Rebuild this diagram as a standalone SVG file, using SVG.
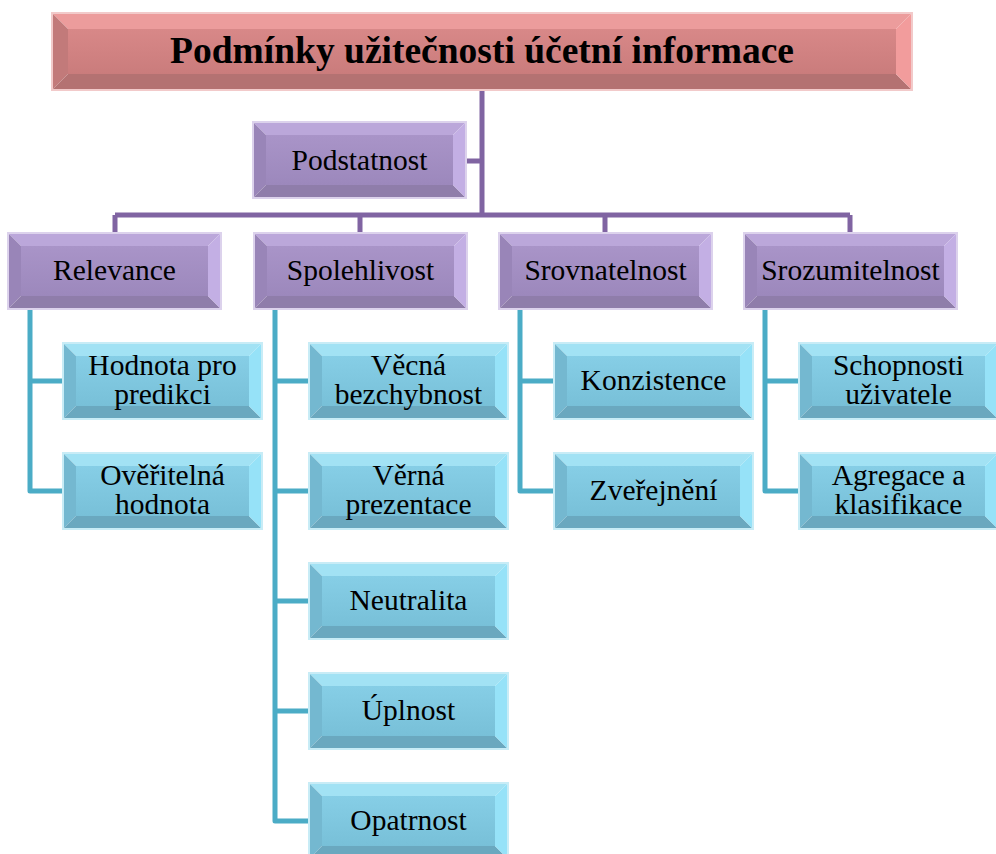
<svg xmlns="http://www.w3.org/2000/svg" xmlns:xlink="http://www.w3.org/1999/xlink" width="996" height="854" viewBox="0 0 996 854">
  <style>
    .lbl { font-family: "Liberation Serif", "Times New Roman", serif; font-size: 29.5px; fill: #000; text-anchor: middle; }
    .ttl { font-family: "Liberation Serif", "Times New Roman", serif; font-size: 37.5px; font-weight: bold; fill: #000; text-anchor: middle; }
    .pl { fill: none; stroke: #8064A2; stroke-width: 5; stroke-linejoin: round; }
    .bl { fill: none; stroke: #4BACC6; stroke-width: 5; stroke-linejoin: round; }
  </style>
  <defs>
    <linearGradient id="gPink" x1="0" y1="0" x2="0" y2="1">
      <stop offset="0" stop-color="#D88888"/>
      <stop offset="1" stop-color="#CA7C7C"/>
    </linearGradient>
    <linearGradient id="gPurple" x1="0" y1="0" x2="0" y2="1">
      <stop offset="0" stop-color="#A994C8"/>
      <stop offset="1" stop-color="#9C88BC"/>
    </linearGradient>
    <linearGradient id="gBlue" x1="0" y1="0" x2="0" y2="1">
      <stop offset="0" stop-color="#86CEE6"/>
      <stop offset="1" stop-color="#78C0D8"/>
    </linearGradient>
    <!-- bevelled title box 860x77 -->
    <g id="pinkBox">
      <rect x="16" y="16" width="828" height="45" fill="url(#gPink)"/>
      <polygon points="0,0 860,0 844,16 16,16" fill="#EC9C9C"/>
      <polygon points="0,0 16,16 16,61 0,77" fill="#C27A7A"/>
      <polygon points="0,77 16,61 844,61 860,77" fill="#B47272"/>
      <polygon points="860,0 860,77 844,61 844,16" fill="#F29C9C"/>
      <rect x="0" y="0" width="860" height="77" fill="none" stroke="#F2CACA" stroke-width="2"/>
    </g>
    <!-- bevelled category box 213x76 -->
    <g id="purpleBox">
      <rect x="13" y="13" width="187" height="50" fill="url(#gPurple)"/>
      <polygon points="0,0 213,0 200,13 13,13" fill="#BBA7DA"/>
      <polygon points="0,0 13,13 13,63 0,76" fill="#9985B8"/>
      <polygon points="0,76 13,63 200,63 213,76" fill="#8F7DAA"/>
      <polygon points="213,0 213,76 200,63 200,13" fill="#C3AFE4"/>
      <rect x="0" y="0" width="213" height="76" fill="none" stroke="#DCD2EC" stroke-width="2"/>
    </g>
    <!-- bevelled item box 199x76 -->
    <g id="blueBox">
      <rect x="13" y="13" width="173" height="50" fill="url(#gBlue)"/>
      <polygon points="0,0 199,0 186,13 13,13" fill="#A2E2F4"/>
      <polygon points="0,0 13,13 13,63 0,76" fill="#74B8D0"/>
      <polygon points="0,76 13,63 186,63 199,76" fill="#6AA8BF"/>
      <polygon points="199,0 199,76 186,63 186,13" fill="#96E2F8"/>
      <rect x="0" y="0" width="199" height="76" fill="none" stroke="#C8ECF6" stroke-width="2"/>
    </g>
  </defs>

  <rect width="996" height="854" fill="#FFFFFF"/>

  <!-- connectors -->
  <g id="connectors">
    <path class="pl" d="M482,90 V215 M465,161 H482 M115,215 H850 M115,215 V233 M360,215 V233 M605,215 V233 M850,215 V233"/>
    <path class="bl" d="M30,309 V491 H63 M30,381 H63"/>
    <path class="bl" d="M275,309 V821 H309 M275,381 H309 M275,491 H309 M275,601 H309 M275,711 H309"/>
    <path class="bl" d="M520,309 V491 H554 M520,381 H554"/>
    <path class="bl" d="M765,309 V491 H799 M765,381 H799"/>
  </g>

  <!-- root -->
  <g id="title">
    <use xlink:href="#pinkBox" x="52" y="13"/>
    <text class="ttl" x="482" y="63">Podmínky užitečnosti účetní informace</text>
  </g>

  <g id="podstatnost">
    <use xlink:href="#purpleBox" x="253" y="122"/>
    <text class="lbl" x="359.5" y="170">Podstatnost</text>
  </g>

  <!-- categories -->
  <g id="relevance">
    <use xlink:href="#purpleBox" x="8" y="233"/>
    <text class="lbl" x="114.5" y="280">Relevance</text>
  </g>
  <g id="spolehlivost">
    <use xlink:href="#purpleBox" x="254" y="233"/>
    <text class="lbl" x="360.5" y="280">Spolehlivost</text>
  </g>
  <g id="srovnatelnost">
    <use xlink:href="#purpleBox" x="499" y="233"/>
    <text class="lbl" x="605.5" y="280">Srovnatelnost</text>
  </g>
  <g id="srozumitelnost">
    <use xlink:href="#purpleBox" x="744" y="233"/>
    <text class="lbl" x="850.5" y="280">Srozumitelnost</text>
  </g>

  <!-- Relevance items -->
  <g id="hodnota-predikce">
    <use xlink:href="#blueBox" x="63" y="343"/>
    <text class="lbl" x="162.5" y="375">Hodnota pro</text>
    <text class="lbl" x="162.5" y="404">predikci</text>
  </g>
  <g id="overitelna-hodnota">
    <use xlink:href="#blueBox" x="63" y="453"/>
    <text class="lbl" x="162.5" y="485">Ověřitelná</text>
    <text class="lbl" x="162.5" y="514">hodnota</text>
  </g>

  <!-- Spolehlivost items -->
  <g id="vecna-bezchybnost">
    <use xlink:href="#blueBox" x="309" y="343"/>
    <text class="lbl" x="408.5" y="375">Věcná</text>
    <text class="lbl" x="408.5" y="404">bezchybnost</text>
  </g>
  <g id="verna-prezentace">
    <use xlink:href="#blueBox" x="309" y="453"/>
    <text class="lbl" x="408.5" y="485">Věrná</text>
    <text class="lbl" x="408.5" y="514">prezentace</text>
  </g>
  <g id="neutralita">
    <use xlink:href="#blueBox" x="309" y="563"/>
    <text class="lbl" x="408.5" y="610">Neutralita</text>
  </g>
  <g id="uplnost">
    <use xlink:href="#blueBox" x="309" y="673"/>
    <text class="lbl" x="408.5" y="720">Úplnost</text>
  </g>
  <g id="opatrnost">
    <use xlink:href="#blueBox" x="309" y="783"/>
    <text class="lbl" x="408.5" y="830">Opatrnost</text>
  </g>

  <!-- Srovnatelnost items -->
  <g id="konzistence">
    <use xlink:href="#blueBox" x="554" y="343"/>
    <text class="lbl" x="653.5" y="390">Konzistence</text>
  </g>
  <g id="zverejneni">
    <use xlink:href="#blueBox" x="554" y="453"/>
    <text class="lbl" x="653.5" y="500">Zveřejnění</text>
  </g>

  <!-- Srozumitelnost items -->
  <g id="schopnosti-uzivatele">
    <use xlink:href="#blueBox" x="799" y="343"/>
    <text class="lbl" x="898.5" y="375">Schopnosti</text>
    <text class="lbl" x="898.5" y="404">uživatele</text>
  </g>
  <g id="agregace-klasifikace">
    <use xlink:href="#blueBox" x="799" y="453"/>
    <text class="lbl" x="898.5" y="485">Agregace a</text>
    <text class="lbl" x="898.5" y="514">klasifikace</text>
  </g>
</svg>
